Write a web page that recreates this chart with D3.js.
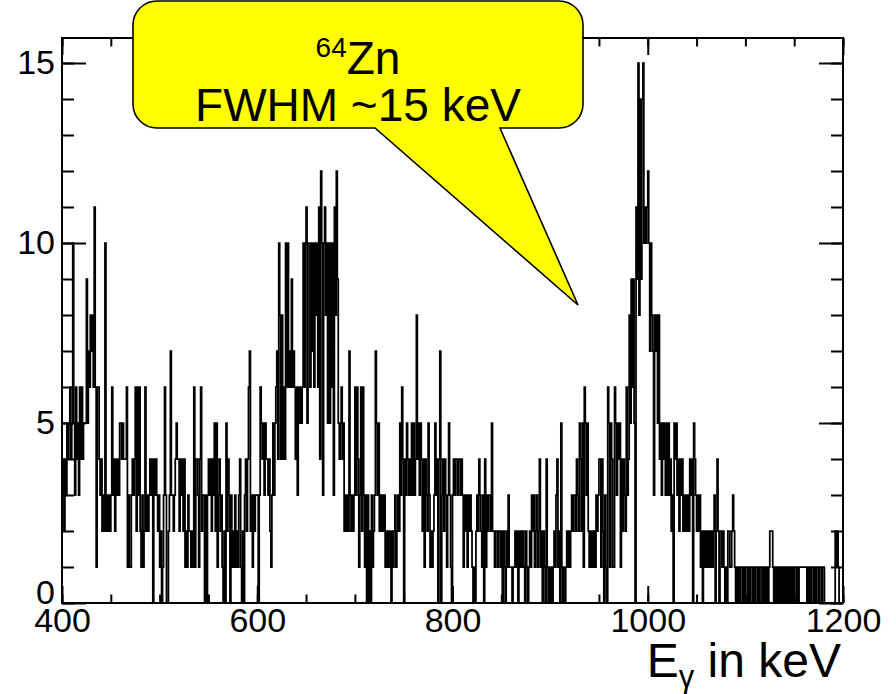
<!DOCTYPE html>
<html><head><meta charset="utf-8">
<script src="https://cdn.jsdelivr.net/npm/d3@7"></script>
<style>
body{margin:0;background:#fff}
svg{display:block}
text{font-family:"Liberation Sans",Arial,Helvetica,sans-serif;fill:#000}
</style>
</head><body>
<svg id="chart" width="896" height="694"></svg>
<script>
// ---------------- data ----------------
const binStart = 400;   // keV
const binWidth = 1;     // keV
const counts_400_599 = [
 3,4,2,4,3,5,4,5,6,4,5,10,5,3,6,4,5,3,6,4,
 6,4,5,5,5,9,5,7,6,8,7,8,6,11,6,1,6,6,4,3,
 4,2,3,2,10,2,3,2,3,2,3,6,3,4,2,4,3,4,3,5,
 5,4,5,4,4,4,6,1,3,1,1,3,4,3,4,6,2,6,3,6,
 2,1,3,1,2,6,2,3,2,3,4,3,4,0,4,3,4,3,2,3,
 1,2,0,1,3,6,3,0,0,2,3,7,3,3,2,3,4,5,4,4,
 2,4,3,4,2,4,1,2,1,3,2,2,1,2,1,6,1,4,4,3,
 1,4,6,2,3,3,0,3,0,3,4,3,4,2,4,3,5,2,5,1,
 3,4,2,3,1,0,2,0,5,2,4,3,0,3,1,2,1,3,1,2,
 1,3,4,1,0,2,0,3,4,2,4,6,7,2,3,1,3,2,3,3];
const counts_600_799 = [
 3,0,3,6,5,4,5,3,5,4,4,3,4,2,1,3,5,3,5,6,
 7,4,10,8,4,8,4,6,4,10,6,10,6,7,6,9,6,7,6,4,
 6,3,6,5,6,5,6,10,6,10,11,5,10,10,6,10,7,10,6,10,
 8,10,6,11,4,12,10,3,10,11,8,10,5,10,5,10,6,10,3,11,
 8,12,9,5,4,5,6,4,5,2,3,2,3,2,7,3,2,3,2,3,
 6,3,6,4,1,3,6,2,6,3,1,3,0,3,0,2,0,3,1,2,
 3,7,5,3,5,2,3,2,3,2,3,1,2,1,2,1,2,0,2,1,
 2,3,1,2,3,2,5,3,6,4,0,4,3,5,4,3,4,3,5,3,
 5,3,4,8,4,5,3,5,4,2,4,1,4,3,2,5,3,1,2,1,
 2,3,5,3,4,0,4,7,0,3,4,2,4,3,1,3,5,3,1,0];
const counts_800_999 = [
 3,4,3,4,4,3,4,4,3,4,3,1,3,2,3,1,3,2,3,2,
 1,0,1,0,2,3,2,4,3,2,1,3,0,4,1,3,2,3,3,2,
 5,2,2,1,2,2,1,2,2,1,2,0,2,1,0,2,1,3,1,1,
 1,0,1,1,2,1,2,0,2,1,2,1,2,1,0,2,1,0,1,2,
 1,3,2,3,1,2,3,1,2,4,1,2,0,2,1,0,4,1,0,1,
 0,1,0,1,2,1,3,4,1,2,0,5,1,0,1,0,1,2,1,2,
 1,2,3,2,3,3,2,4,3,2,5,4,2,5,1,6,5,3,5,2,
 1,2,1,2,1,2,1,3,2,3,4,4,1,4,2,0,3,1,0,6,
 5,1,5,4,1,1,6,5,3,5,4,5,1,4,2,4,3,2,6,3,
 4,8,5,9,6,9,5,0,11,9,15,8,14,9,14,15,10,11,10,11];
const counts_1000_1199 = [
 12,10,7,10,8,7,3,8,7,8,5,8,4,5,3,5,4,5,3,5,
 3,5,3,4,2,3,0,5,4,5,3,4,2,4,3,4,2,3,2,3,
 2,3,2,4,3,4,0,5,4,3,2,3,2,3,1,2,0,2,1,2,
 1,2,1,2,1,2,1,2,3,0,2,4,2,0,2,2,1,2,1,0,
 1,0,2,2,1,1,2,3,2,1,0,1,0,1,0,1,1,0,1,0,
 1,1,0,1,0,1,1,0,1,0,1,1,0,1,0,1,1,0,1,0,
 1,0,1,0,1,2,2,2,1,0,1,0,1,0,1,0,1,0,1,0,
 1,0,1,0,1,0,1,0,1,0,1,1,0,1,0,1,1,1,1,1,
 1,1,1,0,1,0,1,0,1,1,0,1,0,1,1,0,1,1,0,1,
 1,0,0,0,0,0,0,0,0,0,0,0,2,1,2,1,0,0,0,0];
const xMajorTicks = [400, 600, 800, 1000, 1200];
const yMajorTicks = [0, 5, 10, 15];
const xTitleMain = "E", xTitleSub = "\u03b3", xTitleRest = " in keV";
const calloutIsotopeMass = "64", calloutIsotope = "Zn", calloutText2 = "FWHM ~15 keV";

// ---------------- drawing ----------------
const counts = [].concat(counts_400_599, counts_600_799, counts_800_999, counts_1000_1199);
const svg = d3.select("#chart");
svg.append("rect").attr("width",896).attr("height",694).attr("fill","#fff");

const L = 62, R = 843, T = 38, B = 603;
const x = d3.scaleLinear().domain([400, 1200]).range([L, R]);
const y = d3.scaleLinear().domain([0, (B - T) / 36]).range([B, T]);

// histogram
const pts = counts.map((c, i) => [binStart + i * binWidth, c]);
pts.push([binStart + counts.length * binWidth, counts[counts.length - 1]]);
const line = d3.line().x(d => x(d[0])).y(d => y(d[1])).curve(d3.curveStepAfter);
svg.append("path").attr("d", line(pts))
  .attr("fill","none").attr("stroke","#000").attr("stroke-width",1.75);

// axes ticks (inside the frame, on all four sides)
const xMinor = d3.range(400, 1201, 50);
const yMinor = d3.range(0, 16, 1);
function styleAxis(g){ g.select(".domain").remove(); g.selectAll("line").attr("stroke","#000").attr("stroke-width",2); }

svg.append("g").attr("transform",`translate(0,${B})`)
  .call(d3.axisBottom(x).tickValues(xMinor).tickSize(-8.5).tickFormat("")).call(styleAxis);
svg.append("g").attr("transform",`translate(0,${B})`)
  .call(d3.axisBottom(x).tickValues(xMajorTicks).tickSize(-17).tickPadding(5).tickFormat(d3.format("d")))
  .call(styleAxis)
  .call(g => g.selectAll("text").attr("font-size",34).attr("font-family","Liberation Sans, Arial, sans-serif").attr("fill","#000"));
svg.append("g").attr("transform",`translate(0,${T})`)
  .call(d3.axisTop(x).tickValues(xMinor).tickSize(-8.5).tickFormat("")).call(styleAxis);
svg.append("g").attr("transform",`translate(0,${T})`)
  .call(d3.axisTop(x).tickValues(xMajorTicks).tickSize(-17).tickFormat("")).call(styleAxis);

svg.append("g").attr("transform",`translate(${L},0)`)
  .call(d3.axisLeft(y).tickValues(yMinor).tickSize(-12).tickFormat("")).call(styleAxis);
svg.append("g").attr("transform",`translate(${L},0)`)
  .call(d3.axisLeft(y).tickValues(yMajorTicks).tickSize(-24).tickPadding(7).tickFormat(d3.format("d")))
  .call(styleAxis)
  .call(g => g.selectAll("text").attr("font-size",34).attr("font-family","Liberation Sans, Arial, sans-serif").attr("fill","#000")
    .attr("dy", d => d === 0 ? "0.02em" : "0.32em"));
svg.append("g").attr("transform",`translate(${R},0)`)
  .call(d3.axisRight(y).tickValues(yMinor).tickSize(-12).tickFormat("")).call(styleAxis);
svg.append("g").attr("transform",`translate(${R},0)`)
  .call(d3.axisRight(y).tickValues(yMajorTicks).tickSize(-24).tickFormat("")).call(styleAxis);

// frame
svg.append("rect").attr("x",L).attr("y",T).attr("width",R-L).attr("height",B-T)
  .attr("fill","none").attr("stroke","#000").attr("stroke-width",2);

// axis title
const tt = svg.append("text").attr("x", R - 2).attr("y", 677).attr("text-anchor","end").attr("font-size",48);
tt.append("tspan").text(xTitleMain);
tt.append("tspan").attr("font-size",31).attr("dy",10).text(xTitleSub);
tt.append("tspan").attr("dy",-10).text(xTitleRest);

// callout
const bx0 = 133, bx1 = 583, by0 = 1, by1 = 128, r = 24;
const tailL = 375, tailR = 500, tipX = 578, tipY = 305;
const p = d3.path();
p.moveTo(bx0 + r, by0);
p.lineTo(bx1 - r, by0);
p.arcTo(bx1, by0, bx1, by0 + r, r);
p.lineTo(bx1, by1 - r);
p.arcTo(bx1, by1, bx1 - r, by1, r);
p.lineTo(tailR, by1);
p.lineTo(tipX, tipY);
p.lineTo(tailL, by1);
p.lineTo(bx0 + r, by1);
p.arcTo(bx0, by1, bx0, by1 - r, r);
p.lineTo(bx0, by0 + r);
p.arcTo(bx0, by0, bx0 + r, by0, r);
p.closePath();
svg.append("path").attr("d", p.toString()).attr("fill","#ffff00").attr("stroke","#000").attr("stroke-width",1.6);

const t1 = svg.append("text").attr("x",358).attr("y",74).attr("text-anchor","middle").attr("font-size",46);
t1.append("tspan").attr("font-size",28).attr("dy",-17).text(calloutIsotopeMass);
t1.append("tspan").attr("dy",17).text(calloutIsotope);
svg.append("text").attr("x",358).attr("y",121).attr("text-anchor","middle").attr("font-size",46).text(calloutText2);
</script>
</body></html>
